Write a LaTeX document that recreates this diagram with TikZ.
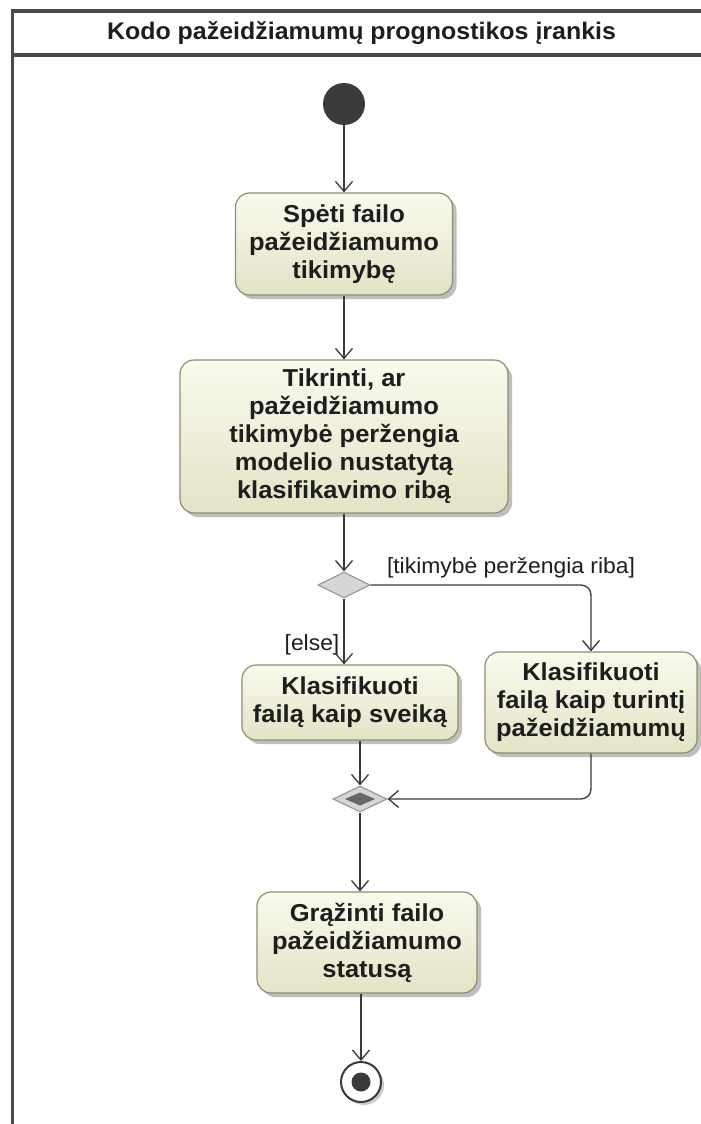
\documentclass[tikz,border=0pt]{standalone}
\usepackage{fontspec}
\setmainfont{Liberation Sans}[FakeStretch=1.04]
\usetikzlibrary{arrows.meta,shapes.geometric,shadows}
\definecolor{ink}{HTML}{3A3A3A}
\definecolor{framec}{HTML}{4A4A4A}
\definecolor{boxtop}{HTML}{FAFAEE}
\definecolor{boxbot}{HTML}{E3E3C6}
\definecolor{boxline}{HTML}{8E8E76}
\definecolor{txt}{HTML}{1E1E1E}
\definecolor{decfill}{HTML}{D6D6D6}
\definecolor{decline}{HTML}{9A9A9A}
\tikzset{
  action/.style={rectangle, rounded corners=14pt, draw=boxline, line width=1.2pt,
    top color=boxtop, bottom color=boxbot, inner sep=0pt, align=center,
    text=txt, font=\fontsize{24.5}{28}\selectfont\bfseries,
    drop shadow={shadow xshift=4pt, shadow yshift=-4pt, fill=black!45, opacity=.55}},
  decision/.style={diamond, draw=decline, fill=decfill, line width=1.2pt,
    inner sep=0pt, minimum width=52pt, minimum height=26pt},
  flow/.style={draw=ink, line width=1.3pt,
    -{Straight Barb[length=10pt,width=17pt,line width=1.3pt]}},
  guard/.style={text=txt, inner sep=0pt, font=\fontsize{22}{26}\selectfont}
}
\begin{document}
\begin{tikzpicture}[x=1pt,y=-1pt]
  \clip (0,0) rectangle (701,1124);
  \fill[white] (0,0) rectangle (701,1124);

  % swimlane frame with title compartment
  \draw[framec, line width=3.5pt] (12.5,1140) -- (12.5,11) -- (720,11);
  \draw[framec, line width=3.5pt] (12.5,55) -- (720,55);
  \node[text=txt, font=\fontsize{24}{28}\selectfont\bfseries] (title) at (361.5,33)
    {Kodo pažeidžiamumų prognostikos įrankis};

  % initial node
  \node[circle, fill=ink, minimum size=42pt, inner sep=0pt] (init) at (344,104) {};

  % actions
  \node[action, minimum width=217pt, minimum height=102pt] (b1) at (344,244)
    {Spėti failo\\pažeidžiamumo\\tikimybę};
  \node[action, minimum width=328pt, minimum height=153pt] (b2) at (344,436.5)
    {Tikrinti, ar\\pažeidžiamumo\\tikimybė peržengia\\modelio nustatytą\\klasifikavimo ribą};
  \node[decision] (d1) at (344,585) {};
  \node[action, minimum width=216pt, minimum height=75pt] (b3) at (350,702.5)
    {Klasifikuoti\\failą kaip sveiką};
  \node[action, minimum width=212pt, minimum height=101pt] (b4) at (591,702.5)
    {Klasifikuoti\\failą kaip turintį\\pažeidžiamumų};

  % merge node
  \node[decision, minimum width=54pt] (d2) at (360,799) {};
  \fill[black!60] (345,799) -- (360,792.5) -- (375,799) -- (360,805.5) -- cycle;

  \node[action, minimum width=220pt, minimum height=101pt] (b5) at (367,942.5)
    {Grąžinti failo\\pažeidžiamumo\\statusą};

  % final node
  \node[circle, draw=ink, line width=2pt, fill=white, minimum size=40pt, inner sep=0pt,
    drop shadow={shadow xshift=3pt, shadow yshift=-3pt, fill=black!40, opacity=.5}]
    (fin) at (361,1082) {};
  \fill[ink] (fin.center) circle (9.5pt);

  % guards
  \node[guard] (gyes) at (511,568) {[tikimybė peržengia riba]};
  \node[guard] (gelse) at (312,645) {[else]};

  % control flows
  \draw[flow] (init.south) -- (init.south |- b1.north);
  \draw[flow] (b1.south) -- (b1.south |- b2.north);
  \draw[flow] (b2.south) -- (d1.north);
  \draw[flow] (d1.south) -- (d1.south |- b3.north);
  \draw[flow, rounded corners=10pt] (d1.east) -| (b4.north);
  \draw[flow] (d2.north |- b3.south) -- (d2.north);
  \draw[flow, rounded corners=10pt] (b4.south) |- (d2.east);
  \draw[flow] (d2.south) -- (d2.south |- b5.north);
  \draw[flow] (fin.north |- b5.south) -- (fin.north);
\end{tikzpicture}
\end{document}
